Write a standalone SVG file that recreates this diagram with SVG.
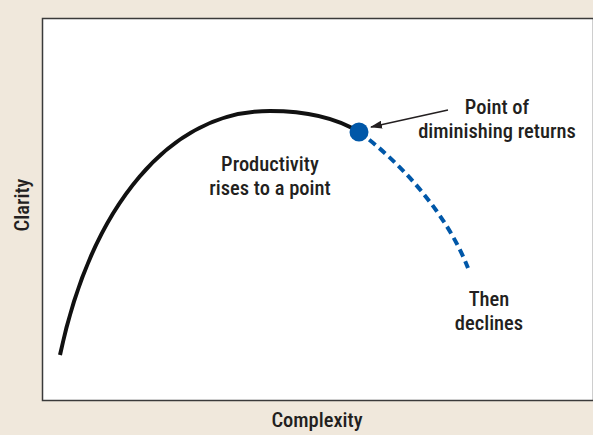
<svg xmlns="http://www.w3.org/2000/svg" width="593" height="435" viewBox="0 0 593 435">
<defs>
<style>
.t{font-family:"Roboto Condensed","Liberation Sans Narrow","Liberation Sans",sans-serif;font-size:20.5px;font-weight:500;fill:#231f20;text-anchor:middle}
</style>
<marker id="ah" markerWidth="12" markerHeight="8" refX="11" refY="4" orient="auto" markerUnits="userSpaceOnUse">
<path d="M0,0 L12,4 L0,8 Z" fill="#231f20"/>
</marker>
</defs>
<rect width="593" height="435" fill="#f0e8dc"/>
<rect x="42.5" y="18.5" width="551" height="382" fill="#fff" stroke="#3a3a3a" stroke-width="1.5"/>
<g id="connectors">
<path id="rise" d="M60,355 C92,205 170,111 270,111 C310,111 338,119 359,132" fill="none" stroke="#111" stroke-width="4"/>
<path id="decline" d="M359,132 C400,162 446,212 468,268" fill="none" stroke="#0057a8" stroke-width="4" stroke-dasharray="8,5"/>
<line x1="448" y1="110" x2="371" y2="127" stroke="#231f20" stroke-width="1.5" marker-end="url(#ah)"/>
</g>
<g id="point"><circle cx="359" cy="132" r="9.5" fill="#0057a8"/></g>
<g id="label-rise"><text class="t" x="270" y="171">Productivity</text><text class="t" x="270" y="195">rises to a point</text></g>
<g id="label-point"><text class="t" x="497" y="114">Point of</text><text class="t" x="497" y="138">diminishing returns</text></g>
<g id="label-decline"><text class="t" x="489" y="306">Then</text><text class="t" x="489" y="330">declines</text></g>
<g id="axis-x"><text class="t" x="317" y="427">Complexity</text></g>
<g id="axis-y"><text class="t" transform="translate(29,205) rotate(-90)">Clarity</text></g>
</svg>
